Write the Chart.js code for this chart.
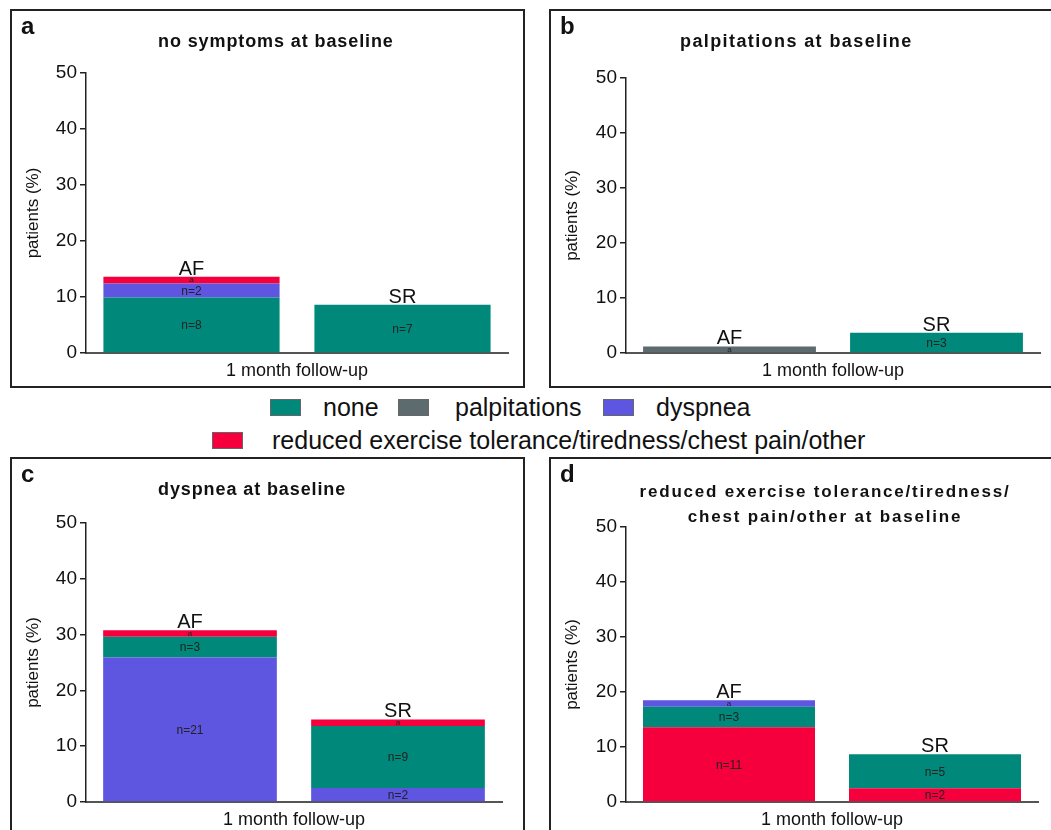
<!DOCTYPE html>
<html>
<head>
<meta charset="utf-8">
<script src="https://cdn.jsdelivr.net/npm/chart.js@4.4.0/dist/chart.umd.min.js"></script>
<style>
body { margin: 0; background: #fff; width: 1051px; height: 830px; overflow: hidden; position: relative; font-family: "Liberation Sans", Arial, sans-serif; }
.panel { position: absolute; border: 2px solid #222; box-sizing: border-box; background: #fff; }
.panel canvas { position: absolute; left: 0; top: 0; }
.tag { position: absolute; left: 9px; top: 1px; font-weight: bold; font-size: 24px; color: #111; }
.lg { position: absolute; font-size: 25px; white-space: nowrap; color: #111; line-height: 28px; }
.sw { position: absolute; width: 29px; height: 15px; border: 1px solid #666; }
</style>
</head>
<body>

<div class="panel" id="pa" style="left:10px;top:9px;width:515px;height:379px"><canvas id="ca" width="511" height="375"></canvas><div class="tag">a</div></div>
<div class="panel" id="pb" style="left:549px;top:9px;width:520px;height:379px"><canvas id="cb" width="516" height="375"></canvas><div class="tag">b</div></div>
<div class="panel" id="pc" style="left:10px;top:457px;width:515px;height:380px"><canvas id="cc" width="511" height="376"></canvas><div class="tag">c</div></div>
<div class="panel" id="pd" style="left:549px;top:457px;width:520px;height:380px"><canvas id="cd" width="516" height="376"></canvas><div class="tag">d</div></div>

<!-- Légende -->
<span class="sw" style="left:270px;top:399px;background:#00897b"></span><span class="lg" style="left:323px;top:393px">none</span>
<span class="sw" style="left:398px;top:399px;background:#5d6b6e"></span><span class="lg" style="left:455px;top:393px">palpitations</span>
<span class="sw" style="left:603px;top:399px;background:#5e55e0"></span><span class="lg" style="left:656px;top:393px">dyspnea</span>
<span class="sw" style="left:212px;top:432px;background:#f5003d"></span><span class="lg" style="left:272px;top:426px">reduced exercise tolerance/tiredness/chest pain/other</span>

<script>
// Catégories et couleurs
const groups = ['AF', 'SR'];
const colNone = '#00897b';
const colPalp = '#5d6b6e';
const colDysp = '#5e55e0';
const colOther = '#f5003d';
const yTicks = [0, 10, 20, 30, 40, 50];

// a : pas de symptômes au départ (ordre d'empilement bas -> haut)
const aNone = [9.9, 8.6];
const aDysp = [2.5, null];
const aOther = [1.2, null];
const aNoneN = ['n=8', 'n=7'];
const aDyspN = ['n=2', ''];
const aOtherN = ['a', ''];

// b : palpitations au départ
const bPalp = [1.2, null];
const bNone = [null, 3.7];
const bPalpN = ['a', ''];
const bNoneN = ['', 'n=3'];

// c : dyspnée au départ
const cDysp = [25.9, 2.5];
const cNone = [3.7, 11.1];
const cOther = [1.2, 1.2];
const cDyspN = ['n=21', 'n=2'];
const cNoneN = ['n=3', 'n=9'];
const cOtherN = ['a', 'a'];

// d : autres symptômes au départ
const dOther = [13.6, 2.5];
const dNone = [3.7, 6.2];
const dDysp = [1.2, null];
const dOtherN = ['n=11', 'n=2'];
const dNoneN = ['n=3', 'n=5'];
const dDyspN = ['a', ''];

const FONT = '"Liberation Sans", Arial, sans-serif';

// Étiquettes dans les segments + AF/SR au-dessus des barres + titre du panneau
const labelPlugin = {
    id: 'labels',
    afterDatasetsDraw(chart) {
        const ctx = chart.ctx;
        const opts = chart.options.plugins.labels;
        const tops = [Infinity, Infinity];
        ctx.save();
        ctx.textAlign = 'center';
        ctx.textBaseline = 'middle';
        chart.data.datasets.forEach((ds, di) => {
            const meta = chart.getDatasetMeta(di);
            meta.data.forEach((bar, i) => {
                if (ds.data[i] == null) return;
                tops[i] = Math.min(tops[i], bar.y);
                const txt = ds.labels[i];
                if (!txt) return;
                const small = txt === 'a';
                ctx.fillStyle = '#222';
                ctx.font = (small ? '8px ' : '12px ') + FONT;
                ctx.fillText(txt, bar.x, (bar.y + bar.base) / 2 + (small ? 0 : 1));
            });
        });
        ctx.font = '20px ' + FONT;
        ctx.fillStyle = '#111';
        ctx.textBaseline = 'alphabetic';
        const x = chart.scales.x;
        groups.forEach((g, i) => {
            ctx.fillText(g, x.getPixelForValue(i), tops[i] - 2);
        });
        // titre
        ctx.font = 'bold ' + opts.size + 'px ' + FONT;
        ctx.letterSpacing = opts.spacing;
        ctx.textBaseline = 'middle';
        ctx.textAlign = opts.titleAlign;
        opts.title.forEach((line, k) => {
            ctx.fillText(line, opts.titleX, opts.titleY + k * 25);
        });
        ctx.restore();
    }
};

function makePanel(id, datasets, box, title) {
    const canvas = document.getElementById(id);
    const W = canvas.width, H = canvas.height;
    return new Chart(canvas.getContext('2d'), {
        type: 'bar',
        data: {
            labels: groups,
            datasets: datasets.map(d => ({
                data: d.data,
                labels: d.labels,
                backgroundColor: d.color,
                borderWidth: 0,
                barPercentage: 0.835,
                categoryPercentage: 1
            }))
        },
        options: {
            responsive: false,
            animation: false,
            layout: { padding: { left: 0, top: box.top, right: W - box.right, bottom: 0 } },
            plugins: {
                legend: { display: false },
                tooltip: { enabled: false },
                labels: title
            },
            scales: {
                x: {
                    stacked: true,
                    ticks: { display: false },
                    grid: { display: false },
                    border: { display: true, color: '#555', width: 2 },
                    title: { display: true, text: '1 month follow-up', color: '#111', font: { family: FONT, size: 18 }, padding: { top: 4, bottom: 4 } },
                    afterFit: s => { s.height = H - box.bottom; }
                },
                y: {
                    stacked: true,
                    min: 0, max: 50,
                    afterBuildTicks: s => { s.ticks = yTicks.map(v => ({ value: v })); },
                    ticks: { color: '#111', font: { family: FONT, size: 19 }, padding: 3 },
                    grid: { drawOnChartArea: false, drawTicks: true, tickLength: 6, color: '#222', lineWidth: 1.5 },
                    border: { display: true, color: '#222', width: 1.5 },
                    title: { display: true, text: 'patients (%)', color: '#111', font: { family: FONT, size: 17 }, padding: { top: 11, bottom: 0 } },
                    afterFit: s => { s.width = box.left; }
                }
            }
        },
        plugins: [labelPlugin]
    });
}

makePanel('ca', [
    { data: aNone, labels: aNoneN, color: colNone },
    { data: aDysp, labels: aDyspN, color: colDysp },
    { data: aOther, labels: aOtherN, color: colOther }
], { left: 74, top: 62, right: 496, bottom: 342 },
   { title: ['no symptoms at baseline'], titleX: 146, titleY: 31, titleAlign: 'left', size: 18, spacing: '0.9px' });

makePanel('cb', [
    { data: bPalp, labels: bPalpN, color: colPalp },
    { data: bNone, labels: bNoneN, color: colNone }
], { left: 75, top: 67, right: 489, bottom: 342 },
   { title: ['palpitations at baseline'], titleX: 129, titleY: 31, titleAlign: 'left', size: 18, spacing: '1.4px' });

makePanel('cc', [
    { data: cDysp, labels: cDyspN, color: colDysp },
    { data: cNone, labels: cNoneN, color: colNone },
    { data: cOther, labels: cOtherN, color: colOther }
], { left: 74, top: 64, right: 490, bottom: 343 },
   { title: ['dyspnea at baseline'], titleX: 146, titleY: 31, titleAlign: 'left', size: 18, spacing: '0.9px' });

makePanel('cd', [
    { data: dOther, labels: dOtherN, color: colOther },
    { data: dNone, labels: dNoneN, color: colNone },
    { data: dDysp, labels: dDyspN, color: colDysp }
], { left: 75, top: 68, right: 487, bottom: 343 },
   { title: ['reduced exercise tolerance/tiredness/', 'chest pain/other at baseline'], titleX: 274, titleY: 33, titleAlign: 'center', size: 17, spacing: '1.8px' });
</script>
</body>
</html>
